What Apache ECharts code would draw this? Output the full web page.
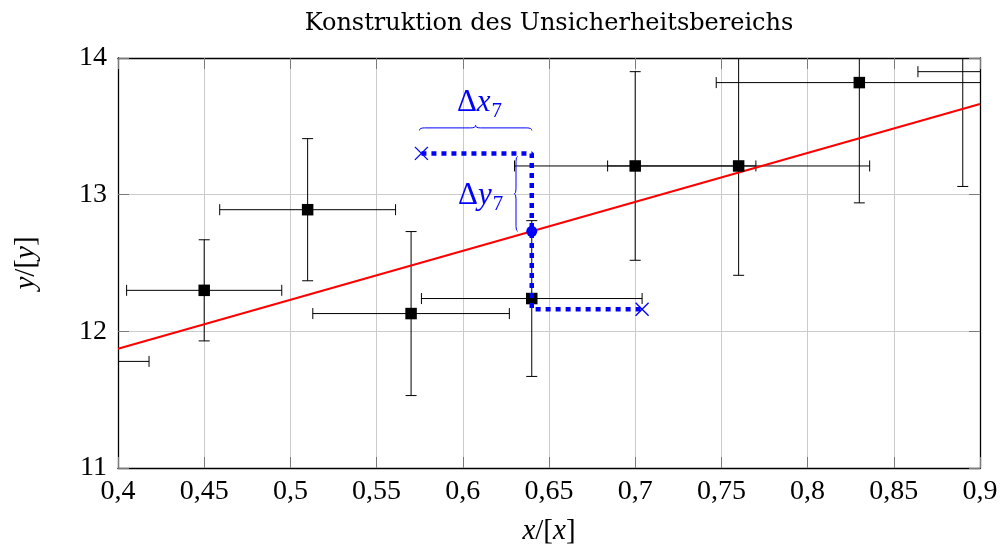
<!DOCTYPE html>
<html><head><meta charset="utf-8">
<script src="https://cdn.jsdelivr.net/npm/echarts@6/dist/echarts.min.js"></script>
<style>html,body{margin:0;padding:0;background:#fff}#c{width:1004px;height:546px}</style>
</head><body><div id="c"></div>
<script>
// ---- data ----
const xVals = [0.38, 0.45, 0.51, 0.57, 0.64, 0.70, 0.76, 0.83, 0.89, 0.96];
const yVals = [11.78, 12.30, 12.89, 12.13, 12.24, 13.21, 13.21, 13.82, 14.10, 13.90];
const xErrs = [0.038, 0.045, 0.051, 0.057, 0.064, 0.070, 0.076, 0.083, 0.089, 0.096];
const yErrs = [0.40, 0.37, 0.52, 0.60, 0.57, 0.69, 0.80, 0.88, 1.04, 0.90];
const fitX = [0.4, 0.9];
const fitY = [11.873, 13.663];
const constrX = [0.576, 0.64, 0.64, 0.704];
const constrY = [13.302, 13.302, 12.162, 12.162];
const fitPoint = [0.64, 12.732];
const xTicks = [0.4, 0.45, 0.5, 0.55, 0.6, 0.65, 0.7, 0.75, 0.8, 0.85, 0.9];
const xTickLabels = ['0,4', '0,45', '0,5', '0,55', '0,6', '0,65', '0,7', '0,75', '0,8', '0,85', '0,9'];
const yTicks = [11, 12, 13, 14];
const yTickLabels = ['11', '12', '13', '14'];
const titleText = 'Konstruktion des Unsicherheitsbereichs';

const SERIF = '"Liberation Serif", serif';
const BLUE = '#0000ff';

function tickLabel(ticks, labels) {
  return function (v) {
    let best = 0;
    for (let i = 1; i < ticks.length; i++) if (Math.abs(ticks[i] - v) < Math.abs(ticks[best] - v)) best = i;
    return labels[best];
  };
}

function renderErr(params, api) {
  const x = api.value(0), y = api.value(1), xe = api.value(2), ye = api.value(3);
  const l = api.coord([x - xe, y]), r = api.coord([x + xe, y]);
  const t = api.coord([x, y + ye]), b = api.coord([x, y - ye]);
  const cap = 5.5;
  const st = { stroke: '#000', lineWidth: 1 };
  const ln = (x1, y1, x2, y2) => ({ type: 'line', shape: { x1, y1, x2, y2 }, style: st });
  return {
    type: 'group', children: [
      ln(l[0], l[1], r[0], r[1]),
      ln(l[0], l[1] - cap, l[0], l[1] + cap),
      ln(r[0], r[1] - cap, r[0], r[1] + cap),
      ln(t[0], t[1], b[0], b[1]),
      ln(t[0] - cap, t[1], t[0] + cap, t[1]),
      ln(b[0] - cap, b[1], b[0] + cap, b[1])
    ]
  };
}

function hBrace(x1, x2, y0, h, r) {
  const xm = (x1 + x2) / 2, ym = y0 - h / 2, yt = y0 - h;
  return `M${x1},${y0} Q${x1},${ym} ${x1 + r},${ym} L${xm - r},${ym} Q${xm},${ym} ${xm},${yt} ` +
         `Q${xm},${ym} ${xm + r},${ym} L${x2 - r},${ym} Q${x2},${ym} ${x2},${y0}`;
}
function vBrace(y1, y2, x0, h, r) {
  const ym = (y1 + y2) / 2, xm = x0 - h / 2, xt = x0 - h;
  return `M${x0},${y1} Q${xm},${y1} ${xm},${y1 + r} L${xm},${ym - r} Q${xm},${ym} ${xt},${ym} ` +
         `Q${xm},${ym} ${xm},${ym + r} L${xm},${y2 - r} Q${xm},${y2} ${x0},${y2}`;
}

function renderConstr(params, api) {
  const pL = api.coord([constrX[0], constrY[0]]);
  const pTop = api.coord([constrX[1], constrY[1]]);
  const pR = api.coord([constrX[3], constrY[3]]);
  const pF = api.coord(fitPoint);
  const c = 6.5;
  const cst = { stroke: BLUE, lineWidth: 1.3 };
  const cross = (p) => [
    { type: 'line', shape: { x1: p[0] - c, y1: p[1] - c, x2: p[0] + c, y2: p[1] + c }, style: cst },
    { type: 'line', shape: { x1: p[0] - c, y1: p[1] + c, x2: p[0] + c, y2: p[1] - c }, style: cst }
  ];
  const bst = { stroke: BLUE, lineWidth: 1, fill: null };
  const hb = hBrace(pL[0] - 2, pTop[0], pL[1] - 23, 5, 5);
  const hm = (pL[0] + pTop[0]) / 2;
  const vx = pTop[0] - 14;
  const vb = vBrace(pTop[1] + 3, pF[1], vx, 3.5, 5);
  const vm = (pTop[1] + 3 + pF[1]) / 2;
  const txt = (x, y, text, align, size, rich) => ({
    type: 'text', x, y,
    style: { text, fill: BLUE, align, verticalAlign: 'middle', fontFamily: SERIF, fontSize: size, rich }
  });
  const rich = {
    d: { fontFamily: SERIF, fontSize: 31, fill: BLUE, color: BLUE },
    i: { fontFamily: SERIF, fontSize: 31, fontStyle: 'italic', fill: BLUE, color: BLUE }
  };
  return {
    type: 'group', children: [
      ...cross(pL), ...cross(pR),
      { type: 'circle', shape: { cx: pF[0], cy: pF[1], r: 5.5 }, style: { fill: BLUE } },
      { type: 'path', shape: { pathData: hb }, style: bst },
      { type: 'path', shape: { pathData: vb }, style: bst },
      txt(hm + 14, pL[1] - 51, '{d|Δ}{i|x}', 'right', 31, rich),
      txt(hm + 15, pL[1] - 42, '7', 'left', 21),
      txt(vx - 26, vm + 2, '{d|Δ}{i|y}', 'right', 31, rich),
      txt(vx - 25, vm + 11, '7', 'left', 21)
    ]
  };
}

const axisLineStyle = { show: true, onZero: false, lineStyle: { color: '#000', width: 1.3 } };
const tickStyle = { show: true, inside: true, length: 11, lineStyle: { color: '#7a7a7a', width: 1 } };
const nameRich = { i: { fontFamily: SERIF, fontSize: 29, fontStyle: 'italic', color: '#000' } };

const option = {
  animation: false,
  backgroundColor: '#fff',
  grid: { left: 118, right: 24, top: 58, bottom: 78, containLabel: false, outerBoundsMode: 'none' },
  graphic: [{
    type: 'text', x: 549, y: 24, z: 10,
    style: { text: titleText, fill: '#000', font: '24px "DejaVu Serif"', align: 'center', verticalAlign: 'middle' }
  }],
  xAxis: [{
    type: 'value', min: 0.4, max: 0.9, interval: 0.05, position: 'bottom',
    axisLine: axisLineStyle, axisTick: tickStyle,
    axisLabel: { formatter: tickLabel(xTicks, xTickLabels), fontFamily: SERIF, fontSize: 28, color: '#000', margin: 10 },
    splitLine: { show: true, lineStyle: { color: '#cbcbcb', width: 1 } },
    name: '{i|x}/[{i|x}]', nameLocation: 'middle', nameGap: 49,
    nameTextStyle: { fontFamily: SERIF, fontSize: 29, color: '#000', rich: nameRich }
  }, {
    type: 'value', min: 0.4, max: 0.9, interval: 0.05, position: 'top',
    axisLine: axisLineStyle, axisTick: tickStyle, axisLabel: { show: false }, splitLine: { show: false }
  }],
  yAxis: [{
    type: 'value', min: 11, max: 14, interval: 1, position: 'left',
    axisLine: axisLineStyle, axisTick: tickStyle,
    axisLabel: { formatter: tickLabel(yTicks, yTickLabels), fontFamily: SERIF, fontSize: 28, color: '#000', margin: 11 },
    splitLine: { show: true, lineStyle: { color: '#cbcbcb', width: 1 } },
    name: '{i|y}/[{i|y}]', nameLocation: 'middle', nameGap: 77, nameRotate: 90,
    nameTextStyle: { fontFamily: SERIF, fontSize: 29, color: '#000', rich: nameRich }
  }, {
    type: 'value', min: 11, max: 14, interval: 1, position: 'right',
    axisLine: axisLineStyle, axisTick: tickStyle, axisLabel: { show: false }, splitLine: { show: false }
  }],
  series: [{
    type: 'custom', name: 'errors', z: 2, clip: true,
    renderItem: renderErr,
    encode: { x: 0, y: 1 },
    data: xVals.map((x, i) => [x, yVals[i], xErrs[i], yErrs[i]])
  }, {
    type: 'line', name: 'fit', z: 3, showSymbol: false, symbol: 'none',
    lineStyle: { color: '#ff0000', width: 2.2 },
    data: fitX.map((x, i) => [x, fitY[i]])
  }, {
    type: 'scatter', name: 'data', z: 4, symbol: 'rect', symbolSize: 11.5,
    itemStyle: { color: '#000', opacity: 1 },
    data: xVals.map((x, i) => [x, yVals[i]])
  }, {
    type: 'line', name: 'construction', z: 5, showSymbol: false, symbol: 'none',
    lineStyle: { color: BLUE, width: 4.5, type: [5, 5], cap: 'butt' },
    data: constrX.map((x, i) => [x, constrY[i]])
  }, {
    type: 'custom', name: 'annotations', z: 6, clip: false,
    renderItem: renderConstr,
    encode: { x: 0, y: 1 },
    data: [[fitPoint[0], fitPoint[1]]]
  }]
};
const chart = echarts.init(document.getElementById('c'), null, { renderer: 'canvas' });
chart.setOption(option);
</script>
</body></html>
